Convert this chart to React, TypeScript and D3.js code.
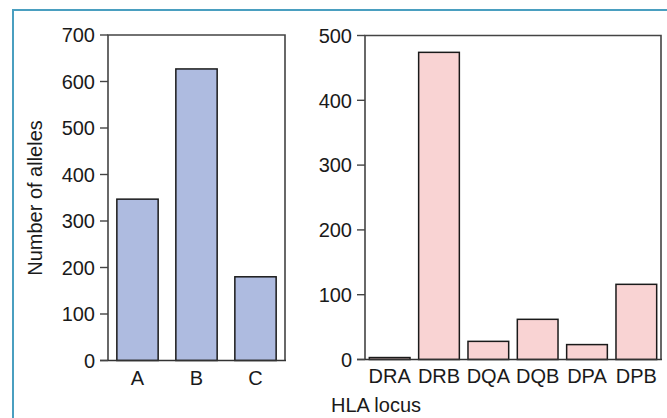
import React from "react";
import * as d3 from "d3";

const classICategories = ["A", "B", "C"];
const classIValues = [347, 627, 180];
const classIICategories = ["DRA", "DRB", "DQA", "DQB", "DPA", "DPB"];
const classIIValues = [3, 474, 28, 62, 23, 116];
const leftTicks = [0, 100, 200, 300, 400, 500, 600, 700];
const rightTicks = [0, 100, 200, 300, 400, 500];

const FONT = "'Liberation Sans', Arial, Helvetica, sans-serif";
const FS = 20;

type PanelProps = {
  cats: string[];
  vals: number[];
  ticks: number[];
  max: number;
  x0: number;
  x1: number;
  y0: number;
  y1: number;
  pi: number;
  fill: string;
  labelY: number;
};

function Panel({ cats, vals, ticks, max, x0, x1, y0, y1, pi, fill, labelY }: PanelProps) {
  const x = d3.scaleBand<string>().domain(cats).range([x0, x1]).paddingInner(pi).paddingOuter(pi / 2);
  const y = d3.scaleLinear().domain([0, max]).range([y1, y0]);
  return (
    <g>
      {cats.map((c, i) => (
        <rect
          key={c}
          x={x(c)}
          y={y(vals[i])}
          width={x.bandwidth()}
          height={y(0) - y(vals[i])}
          fill={fill}
          stroke="#1a1a1a"
          strokeWidth={1.5}
        />
      ))}
      <path
        d={`M${x0},${y1}V${y0}H${x1}V${y1}`}
        fill="none"
        stroke="#444"
        strokeWidth={1.6}
      />
      <line x1={x0 - 8} x2={x1 + 1} y1={y1} y2={y1} stroke="#333" strokeWidth={1.6} />
      {ticks.map((t) => (
        <g key={t}>
          <line x1={x0 - 8} x2={x0} y1={y(t)} y2={y(t)} stroke="#444" strokeWidth={1.4} />
          <text
            x={x0 - 13}
            y={y(t)}
            dy="0.36em"
            textAnchor="end"
            fontFamily={FONT}
            fontSize={FS}
            fill="#1a1a1a"
          >
            {t}
          </text>
        </g>
      ))}
      {cats.map((c) => (
        <text
          key={c}
          x={(x(c) as number) + x.bandwidth() / 2}
          y={labelY}
          textAnchor="middle"
          fontFamily={FONT}
          fontSize={FS}
          fill="#1a1a1a"
        >
          {c}
        </text>
      ))}
    </g>
  );
}

export default function App() {
  return (
    <svg width={667} height={418} style={{ position: "absolute", left: 0, top: 0, background: "#fff" }}>
      <path d="M13,418V10H667" fill="none" stroke="#4a9fc0" strokeWidth={2} />
      <Panel
        cats={classICategories}
        vals={classIValues}
        ticks={leftTicks}
        max={700}
        x0={108}
        x1={285}
        y0={35}
        y1={360.5}
        pi={0.3}
        fill="#aebbe0"
        labelY={385}
      />
      <Panel
        cats={classIICategories}
        vals={classIIValues}
        ticks={rightTicks}
        max={500}
        x0={365}
        x1={661}
        y0={35.5}
        y1={359.5}
        pi={0.175}
        fill="#f9d3d3"
        labelY={383}
      />
      <text
        transform="translate(42,198) rotate(-90)"
        textAnchor="middle"
        fontFamily={FONT}
        fontSize={FS}
        fill="#1a1a1a"
      >
        Number of alleles
      </text>
      <text x={331} y={412} fontFamily={FONT} fontSize={FS} fill="#1a1a1a">
        HLA locus
      </text>
    </svg>
  );
}
